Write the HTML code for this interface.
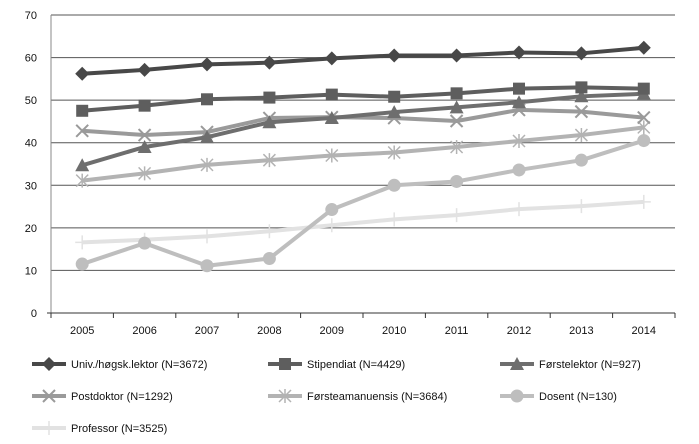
<!DOCTYPE html>
<html><head><meta charset="utf-8"><style>
body{margin:0;background:#fff;}
svg text{font-family:"Liberation Sans",sans-serif;font-size:11px;fill:#111;}
</style></head><body>
<svg id="chart" width="699" height="439" viewBox="0 0 699 439" xmlns="http://www.w3.org/2000/svg"></svg>
<script>
const categories=["2005","2006","2007","2008","2009","2010","2011","2012","2013","2014"];
const yTicks=[0,10,20,30,40,50,60,70];
const seriesNames=["Univ./høgsk.lektor (N=3672)","Stipendiat (N=4429)","Førstelektor (N=927)","Postdoktor (N=1292)","Førsteamanuensis (N=3684)","Dosent (N=130)","Professor (N=3525)"];
const lektor=[56.2,57.1,58.4,58.8,59.8,60.5,60.5,61.2,61.0,62.3];
const stipendiat=[47.5,48.7,50.2,50.6,51.3,50.8,51.6,52.7,53.0,52.7];
const forstelektor=[34.7,39.0,41.3,44.8,45.8,47.2,48.3,49.5,50.9,51.5];
const postdoktor=[42.8,41.8,42.5,45.8,46.0,45.8,45.1,47.7,47.3,45.9];
const forsteamanuensis=[31.1,32.8,34.8,35.9,37.0,37.7,39.0,40.4,41.8,43.6];
const dosent=[11.5,16.4,11.1,12.8,24.3,30.0,30.9,33.6,35.9,40.5];
const professor=[16.6,17.2,18.0,19.2,20.6,22.0,23.0,24.4,25.1,26.1];

const svg=document.getElementById('chart');
const NS="http://www.w3.org/2000/svg";
const L=51,R=675,T=15,B=313,yMax=70;
const band=(R-L)/categories.length;
const xs=i=>L+band*(i+0.5);
const ys=v=>B-(v/yMax)*(B-T);
function mk(tag,attrs,parent){const e=document.createElementNS(NS,tag);for(const k in attrs)e.setAttribute(k,attrs[k]);(parent||svg).appendChild(e);return e;}

yTicks.forEach(v=>{
  if(v>0){const g=mk('line',{x1:L,x2:R,y1:ys(v),y2:ys(v),stroke:'#555','stroke-width':1});
  
  }
  const t=mk('text',{x:L-14,y:ys(v)+4,'text-anchor':'end'});t.textContent=v;
  
  
});
const ax=mk('line',{x1:L,x2:L,y1:T,y2:B+4,stroke:'#888','stroke-width':1});


const bx=mk('line',{x1:L-4,x2:R,y1:B,y2:B,stroke:'#333','stroke-width':1});


for(let i=0;i<=categories.length;i++){const tk=mk('line',{x1:L+band*i,x2:L+band*i,y1:B,y2:B+5,stroke:'#333'});

}
categories.forEach((c,i)=>{const t=mk('text',{x:xs(i),y:B+21,'text-anchor':'middle'});t.textContent=c;

});

const all=[lektor,stipendiat,forstelektor,postdoktor,forsteamanuensis,dosent,professor];
const colors=['#484848','#5e5e5e','#6e6e6e','#9a9a9a','#b3b3b3','#bebebe','#e2e2e2'];
const markers=['diamond','square','triangle','x','star','circle','plus'];
function marker(type,x,y,c,g){
  if(type==='diamond')mk('polygon',{points:`${x},${y-7} ${x+7},${y} ${x},${y+7} ${x-7},${y}`,fill:c},g);
  else if(type==='square')mk('rect',{x:x-6,y:y-6,width:12,height:12,fill:c},g);
  else if(type==='triangle')mk('polygon',{points:`${x},${y-7} ${x+7},${y+6} ${x-7},${y+6}`,fill:c},g);
  else if(type==='circle')mk('circle',{cx:x,cy:y,r:6.5,fill:c},g);
  else if(type==='x'){mk('path',{d:`M${x-6} ${y-6}L${x+6} ${y+6}M${x-6} ${y+6}L${x+6} ${y-6}`,stroke:c,'stroke-width':2},g);}
  else if(type==='star'){mk('path',{d:`M${x-6} ${y-6}L${x+6} ${y+6}M${x-6} ${y+6}L${x+6} ${y-6}M${x} ${y-7}L${x} ${y+7}`,stroke:c,'stroke-width':1.5},g);}
  else if(type==='plus'){mk('path',{d:`M${x} ${y-7}L${x} ${y+7}M${x-7} ${y}L${x+7} ${y}`,stroke:c,'stroke-width':1.5},g);}
}
for(let s=all.length-1;s>=0;s--){
  const g=mk('g',{});
  
  
  const pts=all[s].map((v,i)=>xs(i)+','+ys(v)).join(' ');
  mk('polyline',{points:pts,fill:'none',stroke:colors[s],'stroke-width':4,'stroke-linejoin':'round'},g);
  all[s].forEach((v,i)=>marker(markers[s],xs(i),ys(v),colors[s],g));
}
const lx=[32,268,500],ly=[364,396,428];
seriesNames.forEach((n,s)=>{
  const g=mk('g',{});
  
  
  const x=lx[s%3],y=ly[Math.floor(s/3)];
  mk('line',{x1:x,x2:x+34,y1:y,y2:y,stroke:colors[s],'stroke-width':4},g);
  marker(markers[s],x+17,y,colors[s],g);
  const t=mk('text',{x:x+39,y:y+4},g);t.textContent=n;
});
</script>
</body></html>
